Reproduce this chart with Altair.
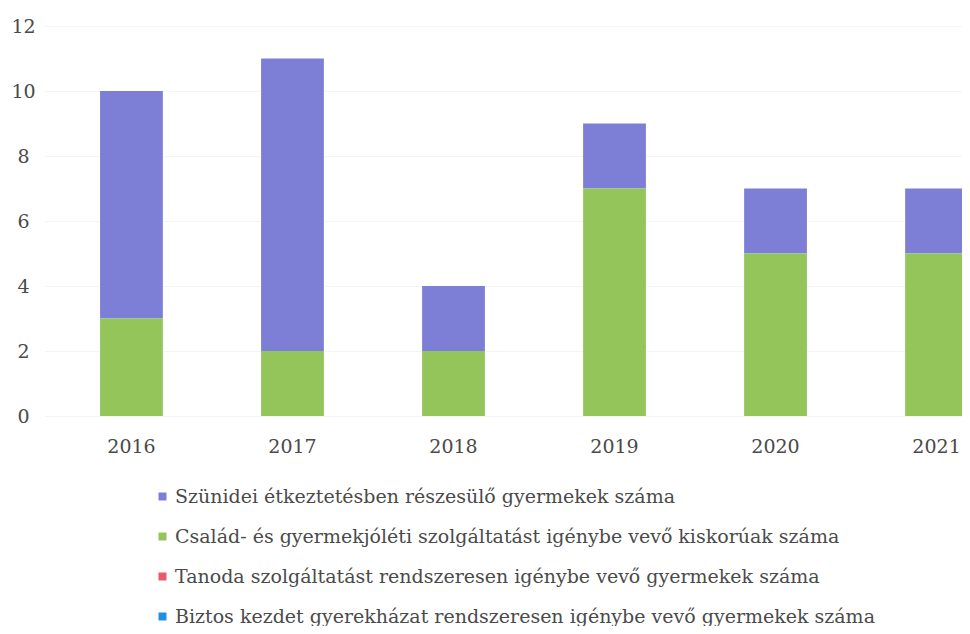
import altair as alt
import pandas as pd

years = ["2016", "2017", "2018", "2019", "2020", "2021"]
series = [
    "Szünidei étkeztetésben részesülő gyermekek száma",
    "Család- és gyermekjóléti szolgáltatást igénybe vevő kiskorúak száma",
    "Tanoda szolgáltatást rendszeresen igénybe vevő gyermekek száma",
    "Biztos kezdet gyerekházat rendszeresen igénybe vevő gyermekek száma",
]
szunidei = [7, 9, 2, 2, 2, 2]
csalad = [3, 2, 2, 7, 5, 5]
tanoda = [0, 0, 0, 0, 0, 0]
biztos = [0, 0, 0, 0, 0, 0]
colors = ["#7c7fd5", "#93c55b", "#e8596e", "#1f8fe0"]
stack_order = [3, 2, 1, 0]

rows = []
for vals, name, o in zip([szunidei, csalad, tanoda, biztos], series, stack_order):
    for y, v in zip(years, vals):
        rows.append({"year": y, "series": name, "value": v, "order": o})
df = pd.DataFrame(rows)

FONT = "DejaVu Serif"

chart = alt.Chart(df).mark_bar().encode(
    x=alt.X("year:N", sort=years,
            scale=alt.Scale(range=[0, 978], paddingInner=0.61, paddingOuter=0.342),
            axis=alt.Axis(title=None, labelAngle=0, ticks=False, domain=False,
                          labelPadding=21, labelFont=FONT, labelFontSize=19,
                          labelColor="#4a4a4a", grid=False)),
    y=alt.Y("value:Q", stack="zero",
            scale=alt.Scale(domain=[0, 12], nice=False),
            axis=alt.Axis(title=None, values=[0, 2, 4, 6, 8, 10, 12], ticks=False,
                          tickSize=0, domain=False, labelAlign="center",
                          labelPadding=22, labelFont=FONT, labelFontSize=19,
                          labelColor="#4a4a4a", grid=True, gridColor="#f4f4f4")),
    color=alt.Color("series:N", sort=series,
                    scale=alt.Scale(domain=series, range=colors),
                    legend=alt.Legend(title=None, orient="none", legendX=108, legendY=461,
                                      direction="vertical", symbolType="square",
                                      symbolSize=64, symbolStrokeWidth=0,
                                      labelFont=FONT, labelFontSize=19,
                                      labelColor="#4a4a4a", labelOffset=3,
                                      rowPadding=20, labelLimit=900)),
    order=alt.Order("order:Q"),
).properties(
    width=917, height=390,
    autosize=alt.AutoSizeParams(type="none"),
    padding={"left": 37, "top": 18, "right": 0, "bottom": 210},
).configure_view(stroke=None)

chart.save("out.html", embed_options={"renderer": "svg", "actions": False})
